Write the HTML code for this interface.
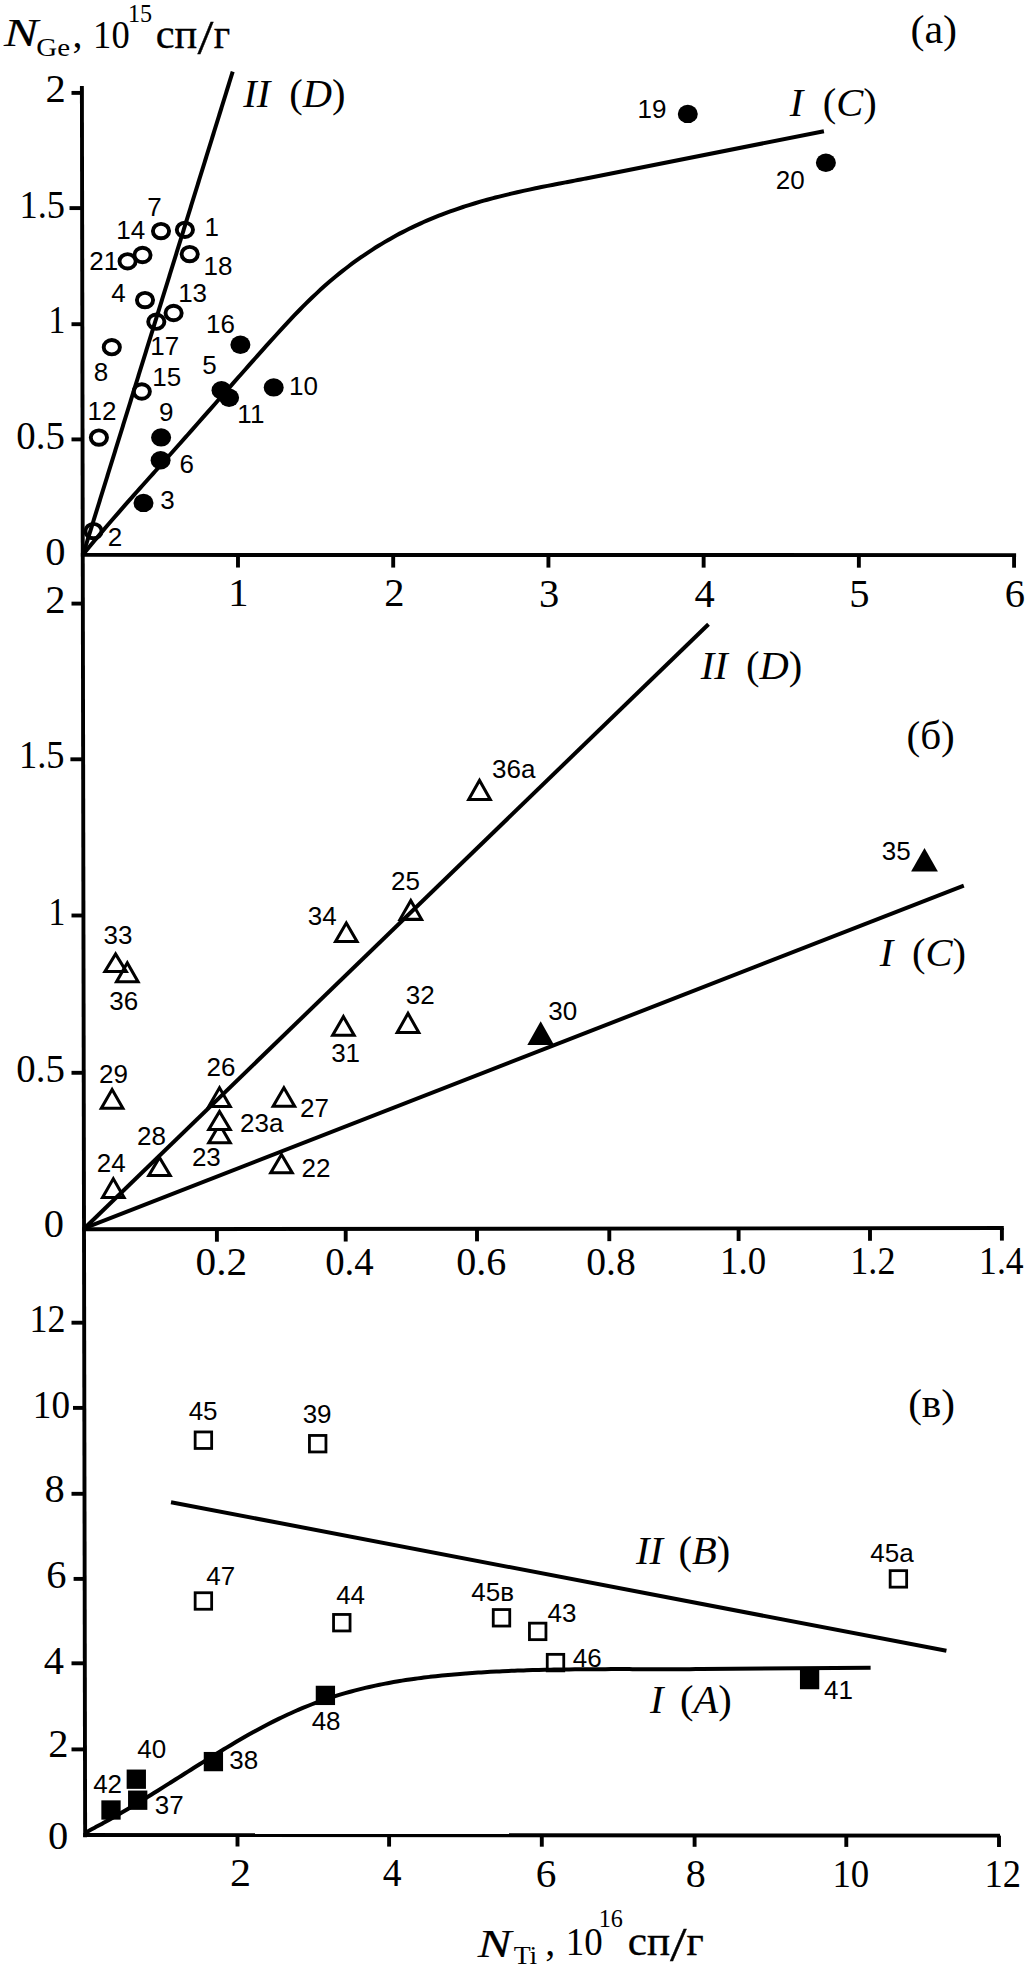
<!DOCTYPE html>
<html lang="ru"><head><meta charset="utf-8"><title>N Ge / N Ti</title>
<style>
html,body{margin:0;padding:0;background:#fff;}
svg{display:block;}
text{fill:#000;}
.s{font-family:"Liberation Serif",serif;}
.si{font-family:"Liberation Serif",serif;font-style:italic;}
.sbi{font-family:"Liberation Serif",serif;font-style:italic;font-weight:bold;}
.a{font-family:"Liberation Sans",sans-serif;}
.i{font-style:italic;}
.ax{stroke:#000;stroke-width:3.9;fill:none;}
.ln{stroke:#000;stroke-width:4;fill:none;stroke-linecap:butt;stroke-linejoin:round;}
.oc{fill:none;stroke:#000;stroke-width:3.9;}
.fc{fill:#000;stroke:none;}
.ot{fill:#000;fill-rule:evenodd;stroke:none;}
.ft{fill:#000;stroke:none;}
.os{fill:none;stroke:#000;stroke-width:2.8;}
.fs{fill:#000;stroke:none;}
</style></head><body>
<svg width="1025" height="1967" viewBox="0 0 1025 1967">
<rect width="1025" height="1967" fill="#fff"/>
<line class="ax" x1="81.89" y1="86" x2="85.13" y2="1837.2"/>
<line class="ax" x1="80.86" y1="554.9" x2="1016.1" y2="555.1"/>
<line class="ax" x1="82.11" y1="1229.3" x2="1003.8" y2="1228.0"/>
<line class="ax" x1="83.23" y1="1835.0" x2="1000" y2="1835.6"/>
<line class="ax" x1="71.5" y1="92.9" x2="81.91" y2="92.9"/>
<text class="s" transform="translate(45.38 101.9)" font-size="40.5">2</text>
<line class="ax" x1="69.5" y1="208.1" x2="82.12" y2="208.1"/>
<text class="s" transform="translate(19.54 217.9) scale(0.9 1)" font-size="40.5">1.5</text>
<line class="ax" x1="71.5" y1="324.2" x2="82.33" y2="324.2"/>
<text class="s" transform="translate(48.57 333.1) scale(0.83 1)" font-size="40.5">1</text>
<line class="ax" x1="71.5" y1="439.4" x2="82.55" y2="439.4"/>
<text class="s" transform="translate(16.24 448.5) scale(0.96 1)" font-size="40.5">0.5</text>
<text class="s" transform="translate(45.37 564.9)" font-size="40.5">0</text>
<line class="ax" x1="237.98000000000002" y1="554.93" x2="237.98000000000002" y2="567.53"/>
<text class="s" transform="translate(228.25 606.43)" font-size="40.5">1</text>
<line class="ax" x1="393.2" y1="554.97" x2="393.2" y2="567.57"/>
<text class="s" transform="translate(384.28 606.47)" font-size="40.5">2</text>
<line class="ax" x1="548.42" y1="555" x2="548.42" y2="567.6"/>
<text class="s" transform="translate(539.09 606.5)" font-size="40.5">3</text>
<line class="ax" x1="703.64" y1="555.03" x2="703.64" y2="567.63"/>
<text class="s" transform="translate(694.41 606.53)" font-size="40.5">4</text>
<line class="ax" x1="858.86" y1="555.07" x2="858.86" y2="567.67"/>
<text class="s" transform="translate(849.33 606.57)" font-size="40.5">5</text>
<line class="ax" x1="1014.0799999999999" y1="555.1" x2="1014.0799999999999" y2="567.7"/>
<text class="s" transform="translate(1004.65 606.6)" font-size="40.5">6</text>
<line class="ax" x1="71.5" y1="603.6" x2="82.85" y2="603.6"/>
<text class="s" transform="translate(45.18 613.1)" font-size="40.5">2</text>
<line class="ax" x1="70.4" y1="759.3" x2="83.14" y2="759.3"/>
<text class="s" transform="translate(18.91 767.8) scale(0.9 1)" font-size="40.5">1.5</text>
<line class="ax" x1="71.5" y1="915.5" x2="83.43" y2="915.5"/>
<text class="s" transform="translate(48.57 924.6) scale(0.83 1)" font-size="40.5">1</text>
<line class="ax" x1="71.5" y1="1072.8" x2="83.72" y2="1072.8"/>
<text class="s" transform="translate(16.24 1082) scale(0.96 1)" font-size="40.5">0.5</text>
<text class="s" transform="translate(43.87 1236.8)" font-size="40.5">0</text>
<line class="ax" x1="216.9" y1="1229.11" x2="216.9" y2="1241.71"/>
<text class="s" transform="translate(195.55 1275.21) scale(1.02 1)" font-size="40.5">0.2</text>
<line class="ax" x1="345.7" y1="1228.93" x2="345.7" y2="1241.53"/>
<text class="s" transform="translate(325.14 1275.03) scale(0.96 1)" font-size="40.5">0.4</text>
<line class="ax" x1="477" y1="1228.74" x2="477" y2="1241.34"/>
<text class="s" transform="translate(456.3 1274.84) scale(0.99 1)" font-size="40.5">0.6</text>
<line class="ax" x1="609.3" y1="1228.56" x2="609.3" y2="1241.16"/>
<text class="s" transform="translate(586.21 1274.66) scale(0.98 1)" font-size="40.5">0.8</text>
<line class="ax" x1="738.6" y1="1228.37" x2="738.6" y2="1240.97"/>
<text class="s" transform="translate(719.99 1274.47) scale(0.91 1)" font-size="40.5">1.0</text>
<line class="ax" x1="870" y1="1228.19" x2="870" y2="1240.79"/>
<text class="s" transform="translate(850.35 1274.29) scale(0.89 1)" font-size="40.5">1.2</text>
<line class="ax" x1="1001.9" y1="1228" x2="1001.9" y2="1240.6"/>
<text class="s" transform="translate(979.11 1274.1) scale(0.88 1)" font-size="40.5">1.4</text>
<line class="ax" x1="71.5" y1="1322.7" x2="84.18" y2="1322.7"/>
<text class="s" transform="translate(29.47 1331.6) scale(0.89 1)" font-size="40.5">12</text>
<line class="ax" x1="73" y1="1407.9" x2="84.34" y2="1407.9"/>
<text class="s" transform="translate(32.75 1417.5) scale(0.92 1)" font-size="40.5">10</text>
<line class="ax" x1="71.5" y1="1493.8" x2="84.5" y2="1493.8"/>
<text class="s" transform="translate(44.57 1502.4)" font-size="40.5">8</text>
<line class="ax" x1="73.6" y1="1578.9" x2="84.65" y2="1578.9"/>
<text class="s" transform="translate(46.27 1588)" font-size="40.5">6</text>
<line class="ax" x1="71.5" y1="1663.3" x2="84.81" y2="1663.3"/>
<text class="s" transform="translate(43.76 1673.7)" font-size="40.5">4</text>
<line class="ax" x1="71.5" y1="1749.4" x2="84.97" y2="1749.4"/>
<text class="s" transform="translate(48.18 1757)" font-size="40.5">2</text>
<text class="s" transform="translate(47.97 1849.1)" font-size="40.5">0</text>
<line class="ax" x1="237.5" y1="1835.1" x2="237.5" y2="1846.5"/>
<text class="s" transform="translate(230.11 1886.3) scale(1.04 1)" font-size="40.5">2</text>
<line class="ax" x1="389.1" y1="1835.2" x2="389.1" y2="1846.6"/>
<text class="s" transform="translate(382.64 1886.4) scale(0.93 1)" font-size="40.5">4</text>
<line class="ax" x1="541.8" y1="1835.3" x2="541.8" y2="1846.7"/>
<text class="s" transform="translate(535.75 1886.5) scale(1.02 1)" font-size="40.5">6</text>
<line class="ax" x1="694.6" y1="1835.4" x2="694.6" y2="1846.8"/>
<text class="s" transform="translate(685.8 1886.6) scale(0.99 1)" font-size="40.5">8</text>
<line class="ax" x1="846.3" y1="1835.5" x2="846.3" y2="1846.9"/>
<text class="s" transform="translate(832.39 1886.7) scale(0.91 1)" font-size="40.5">10</text>
<line class="ax" x1="999" y1="1835.6" x2="999" y2="1847"/>
<text class="s" transform="translate(984.62 1886.8) scale(0.9 1)" font-size="40.5">12</text>
<text class="si" transform="translate(4.06 45.7) scale(1.28 1)" font-size="40" stroke="#000" stroke-width="0.2">N</text>
<text class="s" transform="translate(36.24 55.8) scale(1.16 1)" font-size="25">Ge</text>
<text class="s" transform="translate(72.6 47.3)" font-size="40">,</text>
<text class="s" transform="translate(93.12 47.9) scale(0.9 1)" font-size="40.6">10</text>
<text class="s" transform="translate(127.93 21.6) scale(0.93 1)" font-size="26">15</text>
<text class="s" transform="translate(155.71 48.2) scale(1.06 1)" font-size="40" stroke="#000" stroke-width="0.35">сп</text>
<text class="s" transform="translate(197.4 54.1) scale(1.17 1)" font-size="49" stroke="#000" stroke-width="0.3">/</text>
<text class="s" transform="translate(213.7 48.2)" font-size="40" stroke="#000" stroke-width="0.35">г</text>
<text class="si" transform="translate(477.75 1957.1) scale(1.26 1)" font-size="40" stroke="#000" stroke-width="0.2">N</text>
<text class="s" transform="translate(513.64 1963.5) scale(1.11 1)" font-size="25">Ti</text>
<text class="s" transform="translate(545.3 1954.8)" font-size="40">,</text>
<text class="s" transform="translate(565.68 1954.8) scale(0.91 1)" font-size="40.6">10</text>
<text class="s" transform="translate(598.73 1927.3) scale(0.93 1)" font-size="26">16</text>
<text class="s" transform="translate(627.87 1954.6) scale(1.08 1)" font-size="40" stroke="#000" stroke-width="0.35">сп</text>
<text class="s" transform="translate(669.9 1960.5) scale(1.22 1)" font-size="49" stroke="#000" stroke-width="0.3">/</text>
<text class="s" transform="translate(686.46 1954.6) scale(1.05 1)" font-size="40" stroke="#000" stroke-width="0.35">г</text>
<text class="s" transform="translate(910.5 42.5) scale(1.05 1)" font-size="40">(а)</text>
<text class="s" transform="translate(906.45 748.8) scale(1.03 1)" font-size="40">(б)</text>
<text class="s" transform="translate(908.14 1416.5) scale(1.03 1)" font-size="40">(в)</text>
<text class="si" transform="translate(243.3 106.5)" font-size="40.5">II</text>
<text class="s" x="289.18" y="106.5" font-size="40.5">(<tspan class="i">D</tspan>)</text>
<text class="si" transform="translate(789.7 116.1)" font-size="40.5">I</text>
<text class="s" x="822.78" y="116.1" font-size="40.5">(<tspan class="i">C</tspan>)</text>
<text class="si" transform="translate(700.7 678.5)" font-size="40.5">II</text>
<text class="s" x="746.08" y="678.5" font-size="40.5">(<tspan class="i">D</tspan>)</text>
<text class="si" transform="translate(879.7 966.3)" font-size="40.5">I</text>
<text class="s" x="912.08" y="966.3" font-size="40.5">(<tspan class="i">C</tspan>)</text>
<text class="si" transform="translate(636 1564.2)" font-size="40.5">II</text>
<text class="s" x="678.48" y="1564.2" font-size="40.5">(<tspan class="i">B</tspan>)</text>
<text class="si" transform="translate(650.1 1713.1)" font-size="40.5">I</text>
<text class="s" x="679.88" y="1713.1" font-size="40.5">(<tspan class="i">A</tspan>)</text>
<path class="ln" d="M82.9,555 L232.7,71.7"/>
<path class="ln" d="M82.76,555 C83.77,553.77 86.78,550.04 88.8,547.59 C90.81,545.15 92.82,542.73 94.83,540.32 C96.84,537.92 98.86,535.52 100.87,533.14 C102.88,530.77 104.89,528.4 106.9,526.05 C108.91,523.69 110.93,521.36 112.94,519.03 C114.95,516.69 116.96,514.38 118.97,512.07 C120.99,509.76 123,507.46 125.01,505.17 C127.02,502.87 129.03,500.59 131.05,498.31 C133.06,496.04 135.07,493.77 137.08,491.5 C139.09,489.24 141.11,486.98 143.12,484.72 C145.13,482.46 147.14,480.21 149.15,477.96 C151.17,475.71 153.18,473.47 155.19,471.22 C157.2,468.97 159.21,466.73 161.22,464.48 C163.24,462.24 165.25,459.99 167.26,457.75 C169.27,455.5 171.28,453.25 173.3,451 C175.31,448.75 177.32,446.49 179.33,444.23 C181.34,441.97 183.36,439.71 185.37,437.44 C187.38,435.17 189.39,432.9 191.4,430.63 C193.42,428.35 195.43,426.07 197.44,423.79 C199.45,421.51 201.46,419.23 203.48,416.94 C205.49,414.66 207.5,412.37 209.51,410.08 C211.52,407.8 213.53,405.51 215.55,403.22 C217.56,400.93 219.57,398.64 221.58,396.35 C223.59,394.06 225.61,391.77 227.62,389.49 C229.63,387.2 231.64,384.92 233.65,382.63 C235.67,380.35 237.68,378.07 239.69,375.79 C241.7,373.51 243.71,371.23 245.73,368.96 C247.74,366.69 249.75,364.42 251.76,362.15 C253.77,359.89 255.79,357.63 257.8,355.37 C259.81,353.12 261.82,350.87 263.83,348.62 C265.84,346.38 267.86,344.14 269.87,341.91 C271.88,339.67 273.89,337.45 275.9,335.23 C277.92,333.02 279.93,330.82 281.94,328.63 C283.95,326.45 285.96,324.27 287.98,322.12 C289.99,319.97 292,317.84 294.01,315.73 C296.02,313.63 298.04,311.54 300.05,309.49 C302.06,307.44 304.07,305.41 306.08,303.42 C308.1,301.43 310.11,299.46 312.12,297.53 C314.13,295.6 316.14,293.71 318.15,291.84 C320.17,289.98 322.18,288.16 324.19,286.36 C326.2,284.57 328.21,282.82 330.23,281.09 C332.24,279.37 334.25,277.68 336.26,276.02 C338.27,274.37 340.29,272.74 342.3,271.15 C344.31,269.56 346.32,268 348.33,266.47 C350.35,264.95 352.36,263.45 354.37,261.98 C356.38,260.52 358.39,259.08 360.4,257.67 C362.42,256.26 364.43,254.89 366.44,253.54 C368.45,252.19 370.46,250.87 372.48,249.57 C374.49,248.28 376.5,247.01 378.51,245.77 C380.52,244.53 382.54,243.32 384.55,242.13 C386.56,240.95 388.57,239.78 390.58,238.65 C392.6,237.51 394.61,236.4 396.62,235.31 C398.63,234.22 400.64,233.16 402.66,232.12 C404.67,231.07 406.68,230.06 408.69,229.06 C410.7,228.06 412.71,227.09 414.73,226.14 C416.74,225.19 418.75,224.26 420.76,223.35 C422.77,222.44 424.79,221.55 426.8,220.68 C428.81,219.81 430.82,218.96 432.83,218.13 C434.85,217.3 436.86,216.49 438.87,215.7 C440.88,214.9 442.89,214.13 444.91,213.37 C446.92,212.62 448.93,211.88 450.94,211.15 C452.95,210.43 454.97,209.72 456.98,209.03 C458.99,208.34 461,207.67 463.01,207.01 C465.02,206.35 467.04,205.7 469.05,205.07 C471.06,204.44 473.07,203.83 475.08,203.22 C477.1,202.62 479.11,202.03 481.12,201.45 C483.13,200.87 485.14,200.31 487.16,199.76 C489.17,199.2 491.18,198.66 493.19,198.13 C495.2,197.6 497.22,197.08 499.23,196.57 C501.24,196.06 503.25,195.56 505.26,195.07 C507.28,194.58 509.29,194.1 511.3,193.63 C513.31,193.16 515.32,192.7 517.33,192.24 C519.35,191.78 521.36,191.33 523.37,190.89 C525.38,190.45 527.39,190.02 529.41,189.59 C531.42,189.16 533.43,188.74 535.44,188.32 C537.45,187.9 539.47,187.49 541.48,187.08 C543.49,186.67 545.5,186.27 547.51,185.87 C549.53,185.47 551.54,185.07 553.55,184.68 C555.56,184.28 557.57,183.89 559.59,183.5 C561.6,183.11 563.61,182.72 565.62,182.34 C567.63,181.95 569.64,181.57 571.66,181.18 C573.67,180.8 575.68,180.41 577.69,180.03 C579.7,179.64 581.72,179.26 583.73,178.87 C585.74,178.48 588.76,177.9 589.76,177.7 L823.9,131.2"/>
<path class="ln" d="M84,1228.7 L708.5,624.2"/>
<path class="ln" d="M84,1228.3 L963.8,885.6"/>
<path class="ln" d="M171,1502.2 L946.4,1650.8"/>
<path class="ln" d="M85.1,1832.9 C86.11,1832.34 89.13,1830.65 91.15,1829.56 C93.16,1828.47 95.18,1827.43 97.2,1826.35 C99.21,1825.27 101.23,1824.17 103.24,1823.06 C105.26,1821.95 107.28,1820.83 109.29,1819.69 C111.31,1818.56 113.32,1817.41 115.34,1816.25 C117.36,1815.09 119.37,1813.92 121.39,1812.75 C123.41,1811.57 125.42,1810.38 127.44,1809.18 C129.45,1807.99 131.47,1806.78 133.49,1805.56 C135.5,1804.35 137.52,1803.13 139.53,1801.9 C141.55,1800.67 143.57,1799.44 145.58,1798.19 C147.6,1796.95 149.61,1795.71 151.63,1794.45 C153.65,1793.2 155.66,1791.95 157.68,1790.68 C159.69,1789.42 161.71,1788.16 163.73,1786.89 C165.74,1785.63 167.76,1784.35 169.77,1783.08 C171.79,1781.81 173.81,1780.54 175.82,1779.26 C177.84,1777.99 179.85,1776.71 181.87,1775.44 C183.89,1774.16 185.9,1772.89 187.92,1771.61 C189.94,1770.34 191.95,1769.07 193.97,1767.8 C195.98,1766.53 198,1765.26 200.02,1763.99 C202.03,1762.73 204.05,1761.47 206.06,1760.21 C208.08,1758.95 210.1,1757.7 212.11,1756.45 C214.13,1755.2 216.14,1753.96 218.16,1752.73 C220.18,1751.49 222.19,1750.26 224.21,1749.04 C226.22,1747.82 228.24,1746.61 230.26,1745.41 C232.27,1744.2 234.29,1743.01 236.3,1741.82 C238.32,1740.64 240.34,1739.47 242.35,1738.31 C244.37,1737.15 246.38,1736 248.4,1734.86 C250.42,1733.72 252.43,1732.6 254.45,1731.49 C256.47,1730.38 258.48,1729.28 260.5,1728.2 C262.51,1727.12 264.53,1726.05 266.55,1725 C268.56,1723.95 270.58,1722.92 272.59,1721.9 C274.61,1720.88 276.63,1719.88 278.64,1718.9 C280.66,1717.91 282.67,1716.95 284.69,1716 C286.71,1715.05 288.72,1714.12 290.74,1713.21 C292.75,1712.3 294.77,1711.4 296.79,1710.53 C298.8,1709.66 300.82,1708.8 302.83,1707.96 C304.85,1707.13 306.87,1706.31 308.88,1705.51 C310.9,1704.71 312.91,1703.93 314.93,1703.17 C316.95,1702.41 318.96,1701.67 320.98,1700.94 C323,1700.22 325.01,1699.52 327.03,1698.83 C329.04,1698.15 331.06,1697.48 333.08,1696.83 C335.09,1696.18 337.11,1695.55 339.12,1694.94 C341.14,1694.32 343.16,1693.72 345.17,1693.14 C347.19,1692.56 349.2,1692 351.22,1691.45 C353.24,1690.9 355.25,1690.37 357.27,1689.85 C359.28,1689.33 361.3,1688.83 363.32,1688.35 C365.33,1687.86 367.35,1687.39 369.36,1686.93 C371.38,1686.47 373.4,1686.03 375.41,1685.6 C377.43,1685.17 379.44,1684.75 381.46,1684.35 C383.48,1683.94 385.49,1683.55 387.51,1683.17 C389.53,1682.79 391.54,1682.43 393.56,1682.08 C395.57,1681.72 397.59,1681.38 399.61,1681.05 C401.62,1680.72 403.64,1680.4 405.65,1680.09 C407.67,1679.78 409.69,1679.48 411.7,1679.2 C413.72,1678.91 415.73,1678.63 417.75,1678.36 C419.77,1678.09 421.78,1677.84 423.8,1677.59 C425.81,1677.34 427.83,1677.1 429.85,1676.86 C431.86,1676.63 433.88,1676.41 435.89,1676.19 C437.91,1675.97 439.93,1675.77 441.94,1675.56 C443.96,1675.36 445.97,1675.17 447.99,1674.98 C450.01,1674.79 452.02,1674.61 454.04,1674.44 C456.06,1674.26 458.07,1674.1 460.09,1673.93 C462.1,1673.77 464.12,1673.61 466.14,1673.46 C468.15,1673.31 470.17,1673.16 472.18,1673.02 C474.2,1672.87 476.22,1672.74 478.23,1672.6 C480.25,1672.47 482.26,1672.35 484.28,1672.22 C486.3,1672.1 488.31,1671.98 490.33,1671.87 C492.34,1671.76 494.36,1671.65 496.38,1671.54 C498.39,1671.44 500.41,1671.34 502.42,1671.24 C504.44,1671.15 506.46,1671.06 508.47,1670.97 C510.49,1670.88 512.5,1670.8 514.52,1670.72 C516.54,1670.64 518.55,1670.56 520.57,1670.49 C522.59,1670.42 524.6,1670.35 526.62,1670.29 C528.63,1670.22 530.65,1670.16 532.67,1670.1 C534.68,1670.04 536.7,1669.99 538.71,1669.94 C540.73,1669.89 542.75,1669.84 544.76,1669.79 C546.78,1669.75 548.79,1669.7 550.81,1669.66 C552.83,1669.62 554.84,1669.59 556.86,1669.55 C558.87,1669.52 560.89,1669.49 562.91,1669.46 C564.92,1669.43 566.94,1669.4 568.95,1669.38 C570.97,1669.35 572.99,1669.33 575,1669.31 C577.02,1669.29 579.03,1669.27 581.05,1669.25 C583.07,1669.24 585.08,1669.22 587.1,1669.21 C589.12,1669.2 591.13,1669.18 593.15,1669.17 C595.16,1669.16 597.18,1669.16 599.2,1669.15 C601.21,1669.14 603.23,1669.14 605.24,1669.13 C607.26,1669.13 609.28,1669.12 611.29,1669.12 C613.31,1669.12 615.32,1669.12 617.34,1669.12 C619.36,1669.12 621.37,1669.12 623.39,1669.12 C625.4,1669.12 627.42,1669.12 629.44,1669.12 C631.45,1669.13 633.47,1669.13 635.48,1669.13 C637.5,1669.13 639.52,1669.14 641.53,1669.14 C643.55,1669.14 645.56,1669.15 647.58,1669.15 C649.6,1669.15 651.61,1669.16 653.63,1669.16 C655.65,1669.16 657.66,1669.16 659.68,1669.16 C661.69,1669.17 663.71,1669.17 665.73,1669.17 C667.74,1669.17 669.76,1669.17 671.77,1669.17 C673.79,1669.17 675.81,1669.17 677.82,1669.17 C679.84,1669.16 681.85,1669.16 683.87,1669.16 C685.89,1669.15 687.9,1669.15 689.92,1669.14 C691.93,1669.13 693.95,1669.12 695.97,1669.11 C697.98,1669.1 701.01,1669.08 702.01,1669.08 L870.6,1667.8"/>
<ellipse class="oc" cx="161" cy="231.1" rx="8.1" ry="7.2"/>
<ellipse class="oc" cx="184.9" cy="229.8" rx="8.1" ry="7.2"/>
<ellipse class="oc" cx="189.7" cy="254.1" rx="8.1" ry="7.2"/>
<ellipse class="oc" cx="142.5" cy="255" rx="8.1" ry="7.2"/>
<ellipse class="oc" cx="127.6" cy="261.3" rx="8.1" ry="7.2"/>
<ellipse class="oc" cx="145" cy="300.1" rx="8.1" ry="7.2"/>
<ellipse class="oc" cx="173.6" cy="313" rx="8.1" ry="7.2"/>
<ellipse class="oc" cx="156.3" cy="321.7" rx="8.1" ry="7.2"/>
<ellipse class="oc" cx="111.8" cy="347.2" rx="8.1" ry="7.2"/>
<ellipse class="oc" cx="141.8" cy="391.5" rx="8.1" ry="7.2"/>
<ellipse class="oc" cx="98.9" cy="437.6" rx="8.1" ry="7.2"/>
<ellipse class="oc" cx="93.5" cy="531.1" rx="8.1" ry="7.2"/>
<ellipse class="fc" cx="240.4" cy="344.7" rx="10" ry="9.2"/>
<ellipse class="fc" cx="221.5" cy="390.2" rx="10" ry="9.2"/>
<ellipse class="fc" cx="229.1" cy="397.7" rx="10" ry="9.2"/>
<ellipse class="fc" cx="273.7" cy="387.4" rx="10" ry="9.2"/>
<ellipse class="fc" cx="161.1" cy="437.4" rx="10" ry="9.2"/>
<ellipse class="fc" cx="160.6" cy="460.2" rx="10" ry="9.2"/>
<ellipse class="fc" cx="143.5" cy="502.9" rx="10" ry="9.2"/>
<ellipse class="fc" cx="687.8" cy="113.9" rx="10" ry="9.2"/>
<ellipse class="fc" cx="825.9" cy="162.8" rx="10" ry="9.2"/>
<text class="a" transform="translate(147.3 215.6)" font-size="26">7</text>
<text class="a" transform="translate(116.25 238.7)" font-size="26">14</text>
<text class="a" transform="translate(204.45 235.9)" font-size="26">1</text>
<text class="a" transform="translate(203.45 274.8)" font-size="26">18</text>
<text class="a" transform="translate(89.2 270.2)" font-size="26">21</text>
<text class="a" transform="translate(111.25 302.1)" font-size="26">4</text>
<text class="a" transform="translate(178.15 302.1)" font-size="26">13</text>
<text class="a" transform="translate(206.05 333.3)" font-size="26">16</text>
<text class="a" transform="translate(150.35 354.8)" font-size="26">17</text>
<text class="a" transform="translate(93.73 380.5)" font-size="26">8</text>
<text class="a" transform="translate(152.35 386)" font-size="26">15</text>
<text class="a" transform="translate(202.16 374.2)" font-size="26">5</text>
<text class="a" transform="translate(289.05 395.1)" font-size="26">10</text>
<text class="a" transform="translate(237.35 423.4)" font-size="26">11</text>
<text class="a" transform="translate(87.45 419.8)" font-size="26">12</text>
<text class="a" transform="translate(158.93 421.1)" font-size="26">9</text>
<text class="a" transform="translate(179.4 473.2)" font-size="26">6</text>
<text class="a" transform="translate(160.16 509.3)" font-size="26">3</text>
<text class="a" transform="translate(107.7 545.6)" font-size="26">2</text>
<text class="a" transform="translate(637.45 117.7)" font-size="26">19</text>
<text class="a" transform="translate(775.7 188.8)" font-size="26">20</text>
<path class="ot" d="M115.6,951 L129,973.1 L102.2,973.1 Z M115.6,956.88 L123.58,970.05 L107.62,970.05 Z"/>
<path class="ot" d="M127.3,959.8 L140.7,983.3 L113.9,983.3 Z M127.3,965.96 L135.45,980.25 L119.15,980.25 Z"/>
<path class="ot" d="M112.1,1086.5 L125.5,1109.8 L98.7,1109.8 Z M112.1,1092.62 L120.23,1106.75 L103.97,1106.75 Z"/>
<path class="ot" d="M113.3,1175.7 L126.7,1199 L99.9,1199 Z M113.3,1181.82 L121.43,1195.95 L105.17,1195.95 Z"/>
<path class="ot" d="M159.5,1154.4 L172.9,1177.1 L146.1,1177.1 Z M159.5,1160.4 L167.56,1174.05 L151.44,1174.05 Z"/>
<path class="ot" d="M219.5,1084.7 L232.9,1108 L206.1,1108 Z M219.5,1090.82 L227.63,1104.95 L211.37,1104.95 Z"/>
<path class="ot" d="M219.5,1121.3 L232.9,1144.3 L206.1,1144.3 Z M219.5,1127.36 L227.59,1141.25 L211.41,1141.25 Z"/>
<path class="ot" d="M283.9,1084.7 L297.3,1107.7 L270.5,1107.7 Z M283.9,1090.76 L291.99,1104.65 L275.81,1104.65 Z"/>
<path class="ot" d="M281.5,1151.4 L294.9,1174.2 L268.1,1174.2 Z M281.5,1157.42 L289.57,1171.15 L273.43,1171.15 Z"/>
<path class="ot" d="M346.3,920 L359.7,943.1 L332.9,943.1 Z M346.3,926.08 L354.4,940.05 L338.2,940.05 Z"/>
<path class="ot" d="M343.4,1013.6 L356.8,1036.8 L330,1036.8 Z M343.4,1019.7 L351.52,1033.75 L335.28,1033.75 Z"/>
<path class="ot" d="M479.5,777.3 L492.9,801.1 L466.1,801.1 Z M479.5,783.52 L487.68,798.05 L471.32,798.05 Z"/>
<path class="ot" d="M410.8,897.5 L424.2,920.9 L397.4,920.9 Z M410.8,903.64 L418.94,917.85 L402.66,917.85 Z"/>
<path class="ot" d="M408,1010.3 L421.4,1034.1 L394.6,1034.1 Z M408,1016.52 L416.18,1031.05 L399.82,1031.05 Z"/>
<path fill="#fff" d="M219.5,1114.4 L227.56,1128.05 L211.44,1128.05 Z"/>
<path class="ot" d="M219.5,1108.4 L232.9,1131.1 L206.1,1131.1 Z M219.5,1114.4 L227.56,1128.05 L211.44,1128.05 Z"/>
<path class="ft" d="M540.7,1021.2 L554.1,1045 L527.3,1045 Z"/>
<path class="ft" d="M924.5,848 L937.9,871.5 L911.1,871.5 Z"/>
<text class="a" transform="translate(103.46 944.1)" font-size="26">33</text>
<text class="a" transform="translate(109.26 1010)" font-size="26">36</text>
<text class="a" transform="translate(99.1 1082.5)" font-size="26">29</text>
<text class="a" transform="translate(96.7 1171.8)" font-size="26">24</text>
<text class="a" transform="translate(137.1 1144.6)" font-size="26">28</text>
<text class="a" transform="translate(206.5 1075.8)" font-size="26">26</text>
<text class="a" transform="translate(240.1 1132.3)" font-size="26">23а</text>
<text class="a" transform="translate(191.9 1165.9)" font-size="26">23</text>
<text class="a" transform="translate(300.1 1116.8)" font-size="26">27</text>
<text class="a" transform="translate(301.6 1177.1)" font-size="26">22</text>
<text class="a" transform="translate(307.76 925.1)" font-size="26">34</text>
<text class="a" transform="translate(331.16 1061.9)" font-size="26">31</text>
<text class="a" transform="translate(492.06 777.9)" font-size="26">36а</text>
<text class="a" transform="translate(391.1 890.3)" font-size="26">25</text>
<text class="a" transform="translate(405.86 1004.2)" font-size="26">32</text>
<text class="a" transform="translate(548.26 1019.8)" font-size="26">30</text>
<text class="a" transform="translate(881.86 860.1)" font-size="26">35</text>
<rect class="os" x="195.15" y="1431.95" width="16.5" height="16.5"/>
<rect class="os" x="309.45" y="1435.45" width="16.5" height="16.5"/>
<rect class="os" x="195.15" y="1592.75" width="16.5" height="16.5"/>
<rect class="os" x="333.55" y="1614.45" width="16.5" height="16.5"/>
<rect class="os" x="493.25" y="1609.55" width="16.5" height="16.5"/>
<rect class="os" x="529.45" y="1623.15" width="16.5" height="16.5"/>
<rect class="os" x="547.25" y="1654.35" width="16.5" height="16.5"/>
<rect class="os" x="890.15" y="1570.65" width="16.5" height="16.5"/>
<rect class="fs" x="101.35" y="1800.35" width="19.3" height="19.3"/>
<rect class="fs" x="128.05" y="1790.55" width="19.3" height="19.3"/>
<rect class="fs" x="126.65" y="1769.55" width="19.3" height="19.3"/>
<rect class="fs" x="203.75" y="1751.95" width="19.3" height="19.3"/>
<rect class="fs" x="315.75" y="1685.75" width="19.3" height="19.3"/>
<rect class="fs" x="799.95" y="1669.95" width="19.3" height="19.3"/>
<text class="a" transform="translate(188.65 1419.5)" font-size="26">45</text>
<text class="a" transform="translate(302.66 1423.4)" font-size="26">39</text>
<text class="a" transform="translate(206.25 1584.6)" font-size="26">47</text>
<text class="a" transform="translate(336.15 1604.1)" font-size="26">44</text>
<text class="a" transform="translate(471.25 1601)" font-size="26">45в</text>
<text class="a" transform="translate(547.55 1621.8)" font-size="26">43</text>
<text class="a" transform="translate(572.85 1667.2)" font-size="26">46</text>
<text class="a" transform="translate(870.35 1561.8)" font-size="26">45а</text>
<text class="a" transform="translate(823.95 1699.1)" font-size="26">41</text>
<text class="a" transform="translate(93.15 1793.4)" font-size="26">42</text>
<text class="a" transform="translate(137.25 1758.3)" font-size="26">40</text>
<text class="a" transform="translate(154.86 1813.5)" font-size="26">37</text>
<text class="a" transform="translate(229.36 1769.4)" font-size="26">38</text>
<text class="a" transform="translate(311.65 1729.8)" font-size="26">48</text>
</svg></body></html>
